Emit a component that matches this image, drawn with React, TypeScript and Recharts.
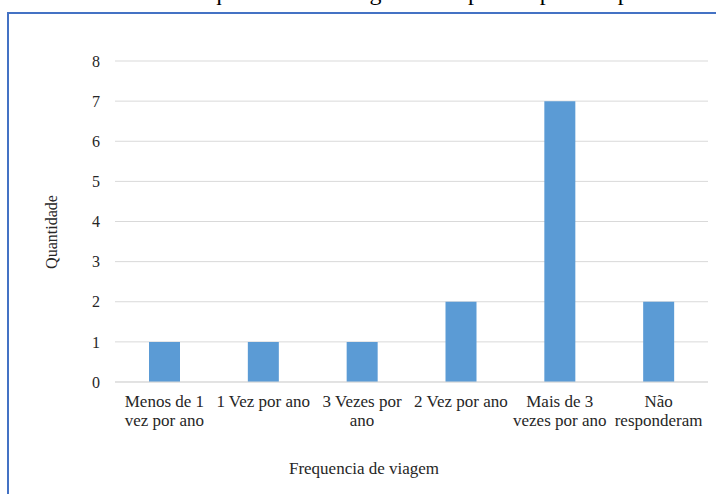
import React from 'react';
import { BarChart, Bar, XAxis, YAxis, CartesianGrid } from 'recharts';

const categories = [
  'Menos de 1 vez por ano',
  '1 Vez por ano',
  '3 Vezes por ano',
  '2 Vez por ano',
  'Mais de 3 vezes por ano',
  'Não responderam',
];
// how each category label is broken into lines under the axis
const categoryLines = [
  ['Menos de 1', 'vez por ano'],
  ['1 Vez por ano'],
  ['3 Vezes por', 'ano'],
  ['2 Vez por ano'],
  ['Mais de 3', 'vezes por ano'],
  ['Não', 'responderam'],
];
const quantidade = [1, 1, 1, 2, 7, 2];
const yTicks = [0, 1, 2, 3, 4, 5, 6, 7, 8];

const data = categories.map((name, i) => ({ name, lines: categoryLines[i], Quantidade: quantidade[i] }));

const serif = '"Liberation Serif", "Times New Roman", serif';
const textColor = '#262626';

const CategoryTick = (props: any) => {
  const { x, y, payload, index } = props;
  const lines = categoryLines[index] || [payload.value];
  return (
    <text x={x} y={y + 23} textAnchor="middle" fontSize={17} fontFamily={serif} fill={textColor}>
      {lines.map((line: string, i: number) => (
        <tspan key={i} x={x} dy={i === 0 ? 0 : 19}>
          {line}
        </tspan>
      ))}
    </text>
  );
};

export default function App() {
  return (
    <div style={{ position: 'absolute', left: 0, top: 0, width: 716, height: 494, background: '#fff', overflow: 'hidden' }}>
      {/* caption line above the chart, cut off at the top of the picture */}
      <div style={{ position: 'absolute', left: 0, top: 0, width: 716, height: 9, overflow: 'hidden' }}>
        <div style={{ position: 'absolute', left: 40, top: -20, whiteSpace: 'nowrap', fontFamily: serif, fontSize: 24, lineHeight: '24px', color: '#000', letterSpacing: 1.5 }}>
          Gráfico 5 – Frequência de viagem dos participantes por ano
        </div>
      </div>
      <div
        style={{
          position: 'absolute',
          left: 7,
          top: 12,
          width: 720,
          height: 490,
          borderLeft: '2px solid #4472c4',
          borderTop: '2px solid #4472c4',
        }}
      >
        <BarChart
          width={707}
          height={480}
          data={data}
          margin={{ top: 47, right: 8, left: 0, bottom: 0 }}
          barCategoryGap={0}
        >
          <CartesianGrid vertical={false} stroke="#d9d9d9" />
          <XAxis
            dataKey="name"
            height={112}
            interval={0}
            tickLine={false}
            axisLine={{ stroke: '#d9d9d9' }}
            tickSize={0}
            tick={<CategoryTick />}
            label={() => (
              <text x={355} y={460} textAnchor="middle" fontSize={17} fontFamily={serif} fill={textColor}>
                Frequencia de viagem
              </text>
            )}
          />
          <YAxis
            width={106}
            domain={[0, 8]}
            ticks={yTicks}
            interval={0}
            tickLine={false}
            axisLine={false}
            tickMargin={9}
            tick={{ fontSize: 16, fontFamily: serif, fill: textColor }}
            label={() => (
              <text
                x={42}
                y={218}
                textAnchor="middle"
                dominantBaseline="central"
                transform="rotate(-90 42 218)"
                fontSize={16}
                fontFamily={serif}
                fill={textColor}
              >
                Quantidade
              </text>
            )}
          />
          <Bar dataKey="Quantidade" fill="#5b9bd5" barSize={31} isAnimationActive={false} />
        </BarChart>
      </div>
    </div>
  );
}
